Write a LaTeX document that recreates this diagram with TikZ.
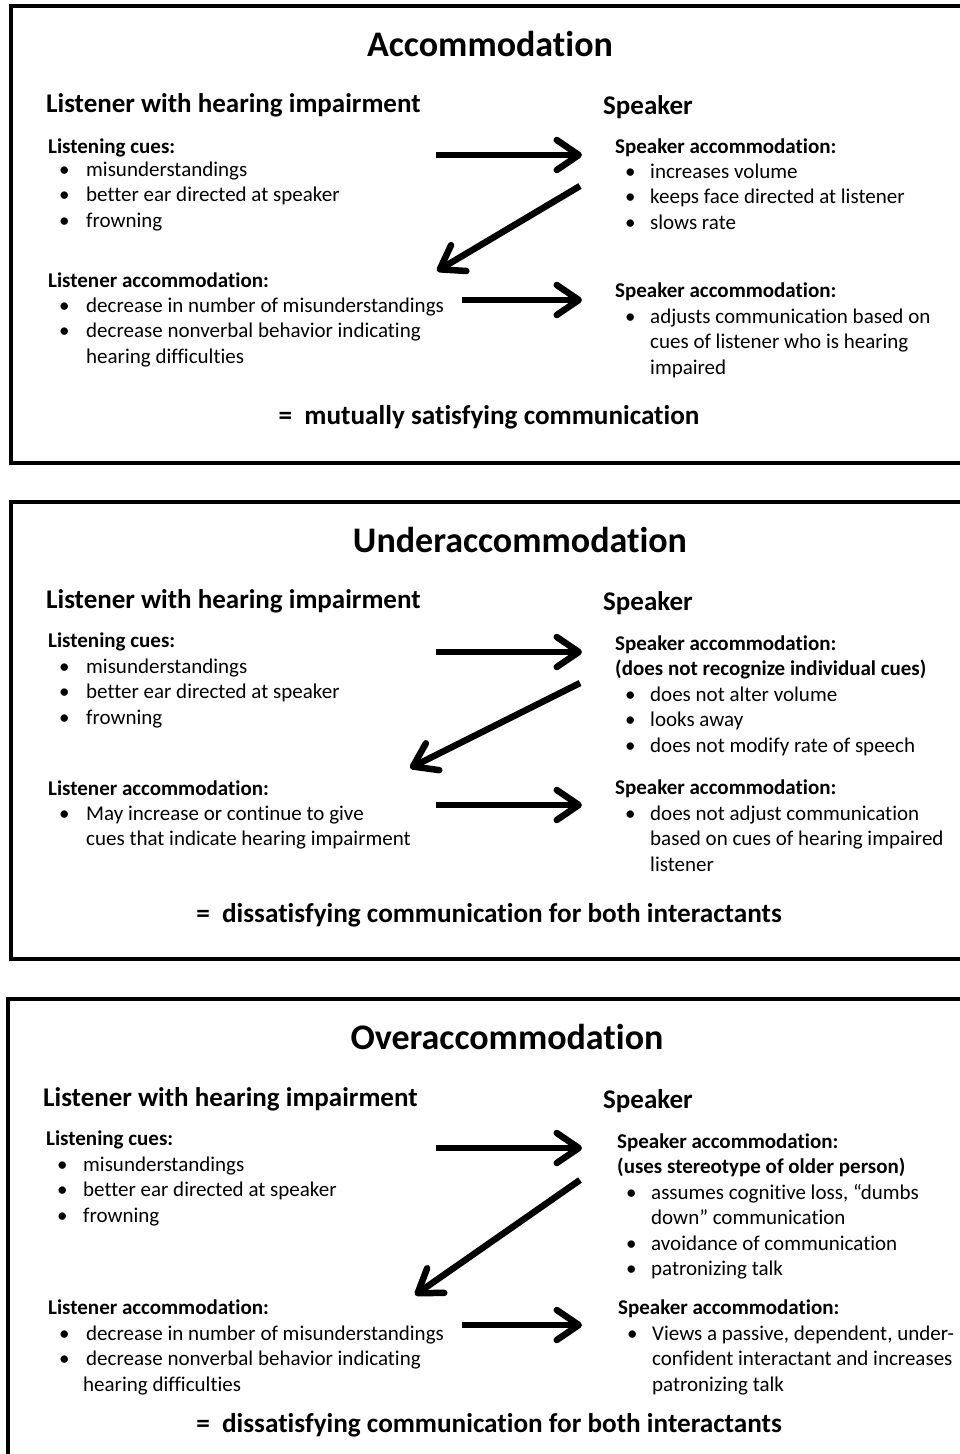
\documentclass[tikz,border=0pt]{standalone}
\usepackage{fontspec}
\setmainfont{Carlito}[Ligatures=NoCommon]
\usetikzlibrary{arrows.meta}
\newcommand\bitems[2]{\begin{tabular}[t]{@{}p{#1}@{}l@{}}#2\end{tabular}}
\begin{document}
\begin{tikzpicture}[x=1pt,y=-1pt,
  frame/.style={draw=black,line width=3.5pt},
  ttl/.style={anchor=base,inner sep=0pt,font=\bfseries\fontsize{36}{43}\selectfont},
  head/.style={anchor=base west,inner sep=0pt,font=\bfseries\fontsize{27}{32}\selectfont},
  sub/.style={anchor=base west,inner sep=0pt,font=\bfseries\fontsize{21}{25.5}\selectfont},
  body/.style={anchor=base west,inner sep=0pt,font=\fontsize{21}{25.5}\selectfont},
  result/.style={anchor=base,inner sep=0pt,font=\bfseries\fontsize{27.2}{31}\selectfont},
  flow/.style={line width=6.5pt,-{Straight Barb[length=22pt,width=30pt,line cap=round,line join=round]}}]
\useasboundingbox (0,0) rectangle (960,1454);
\clip (0,0) rectangle (960,1454);
\fill[white] (0,0) rectangle (960,1454);

% ---------- Box 1: Accommodation ----------
\draw[frame] (11,6) rectangle (990,463);
\node[ttl] (t1) at (490,56) {Accommodation};
\node[head] (l1) at (46,112) {Listener with hearing impairment};
\node[head] (s1) at (603,114) {Speaker};
\node[sub] (lc1) at (48,153) {Listening cues:};
\node[body] (lci1) at (59,176) {\bitems{27pt}{•&misunderstandings\\ •&better ear directed at speaker\\ •&frowning}};
\node[sub] (la1) at (48,287) {Listener accommodation:};
\node[body] (lai1) at (59,312) {\bitems{27pt}{•&decrease in number of misunderstandings\\ •&decrease nonverbal behavior indicating\\ &hearing difficulties}};
\node[sub] (sa1) at (615,153) {Speaker accommodation:};
\node[body] (sai1) at (625,178) {\bitems{25pt}{•&increases volume\\ •&keeps face directed at listener\\ •&slows rate}};
\node[sub] (sb1) at (615,297) {Speaker accommodation:};
\node[body] (sbi1) at (625,323) {\bitems{25pt}{•&adjusts communication based on\\ &cues of listener who is hearing\\ &impaired}};
\node[result] (r1) at (489,424) {=\ \ mutually satisfying communication};
\coordinate (a1s) at (436,155); \coordinate (a1e) at (582,155);
\coordinate (d1s) at (580,186); \coordinate (d1e) at (437,271);
\coordinate (b1s) at (462,300); \coordinate (b1e) at (582,300);
\draw[flow] (a1s) -- (a1e);
\draw[flow] (d1s) -- (d1e);
\draw[flow] (b1s) -- (b1e);

% ---------- Box 2: Underaccommodation ----------
\draw[frame] (11,502) rectangle (990,959);
\node[ttl] (t2) at (520,552) {Underaccommodation};
\node[head] (l2) at (46,608) {Listener with hearing impairment};
\node[head] (s2) at (603,610) {Speaker};
\node[sub] (lc2) at (48,647) {Listening cues:};
\node[body] (lci2) at (59,673) {\bitems{27pt}{•&misunderstandings\\ •&better ear directed at speaker\\ •&frowning}};
\node[sub] (la2) at (48,795) {Listener accommodation:};
\node[body] (lai2) at (59,820) {\bitems{27pt}{•&May increase or continue to give\\ &cues that indicate hearing impairment}};
\node[sub] (sa2) at (615,650) {\begin{tabular}[t]{@{}l@{}}Speaker accommodation:\\(does not recognize individual cues)\end{tabular}};
\node[body] (sai2) at (625,701) {\bitems{25pt}{•&does not alter volume\\ •&looks away\\ •&does not modify rate of speech}};
\node[sub] (sb2) at (615,794) {Speaker accommodation:};
\node[body] (sbi2) at (625,820) {\bitems{25pt}{•&does not adjust communication\\ &based on cues of hearing impaired\\ &listener}};
\node[result] (r2) at (489,922) {=\ \ dissatisfying communication for both interactants};
\coordinate (a2s) at (436,652); \coordinate (a2e) at (582,652);
\coordinate (d2s) at (580,683); \coordinate (d2e) at (410,768);
\coordinate (b2s) at (436,805); \coordinate (b2e) at (582,805);
\draw[flow] (a2s) -- (a2e);
\draw[flow] (d2s) -- (d2e);
\draw[flow] (b2s) -- (b2e);

% ---------- Box 3: Overaccommodation ----------
\draw[frame] (8,999) rectangle (990,1480);
\node[ttl] (t3) at (507,1049) {Overaccommodation};
\node[head] (l3) at (43,1106) {Listener with hearing impairment};
\node[head] (s3) at (603,1108) {Speaker};
\node[sub] (lc3) at (46,1145) {Listening cues:};
\node[body] (lci3) at (57,1171) {\bitems{26pt}{•&misunderstandings\\ •&better ear directed at speaker\\ •&frowning}};
\node[sub] (la3) at (48,1314) {Listener accommodation:};
\node[body] (lai3) at (59,1340) {\bitems{27pt}{•&decrease in number of misunderstandings\\ •&decrease nonverbal behavior indicating\\ &\hspace*{-3pt}hearing difficulties}};
\node[sub] (sa3) at (617,1148) {\begin{tabular}[t]{@{}l@{}}Speaker accommodation:\\(uses stereotype of older person)\end{tabular}};
\node[body] (sai3) at (626,1199) {\bitems{25pt}{•&assumes cognitive loss, “dumbs\\ &down” communication\\ •&avoidance of communication\\ •&patronizing talk}};
\node[sub] (sb3) at (618,1314) {Speaker accommodation:};
\node[body] (sbi3) at (627,1340) {\bitems{25pt}{•&Views a passive, dependent, under-\\ &confident interactant and increases\\ &patronizing talk}};
\node[result] (r3) at (489,1432) {=\ \ dissatisfying communication for both interactants};
\coordinate (a3s) at (436,1148); \coordinate (a3e) at (582,1148);
\coordinate (d3s) at (580,1180); \coordinate (d3e) at (415,1295);
\coordinate (b3s) at (462,1325); \coordinate (b3e) at (582,1325);
\draw[flow] (a3s) -- (a3e);
\draw[flow] (d3s) -- (d3e);
\draw[flow] (b3s) -- (b3e);
\end{tikzpicture}
\end{document}
